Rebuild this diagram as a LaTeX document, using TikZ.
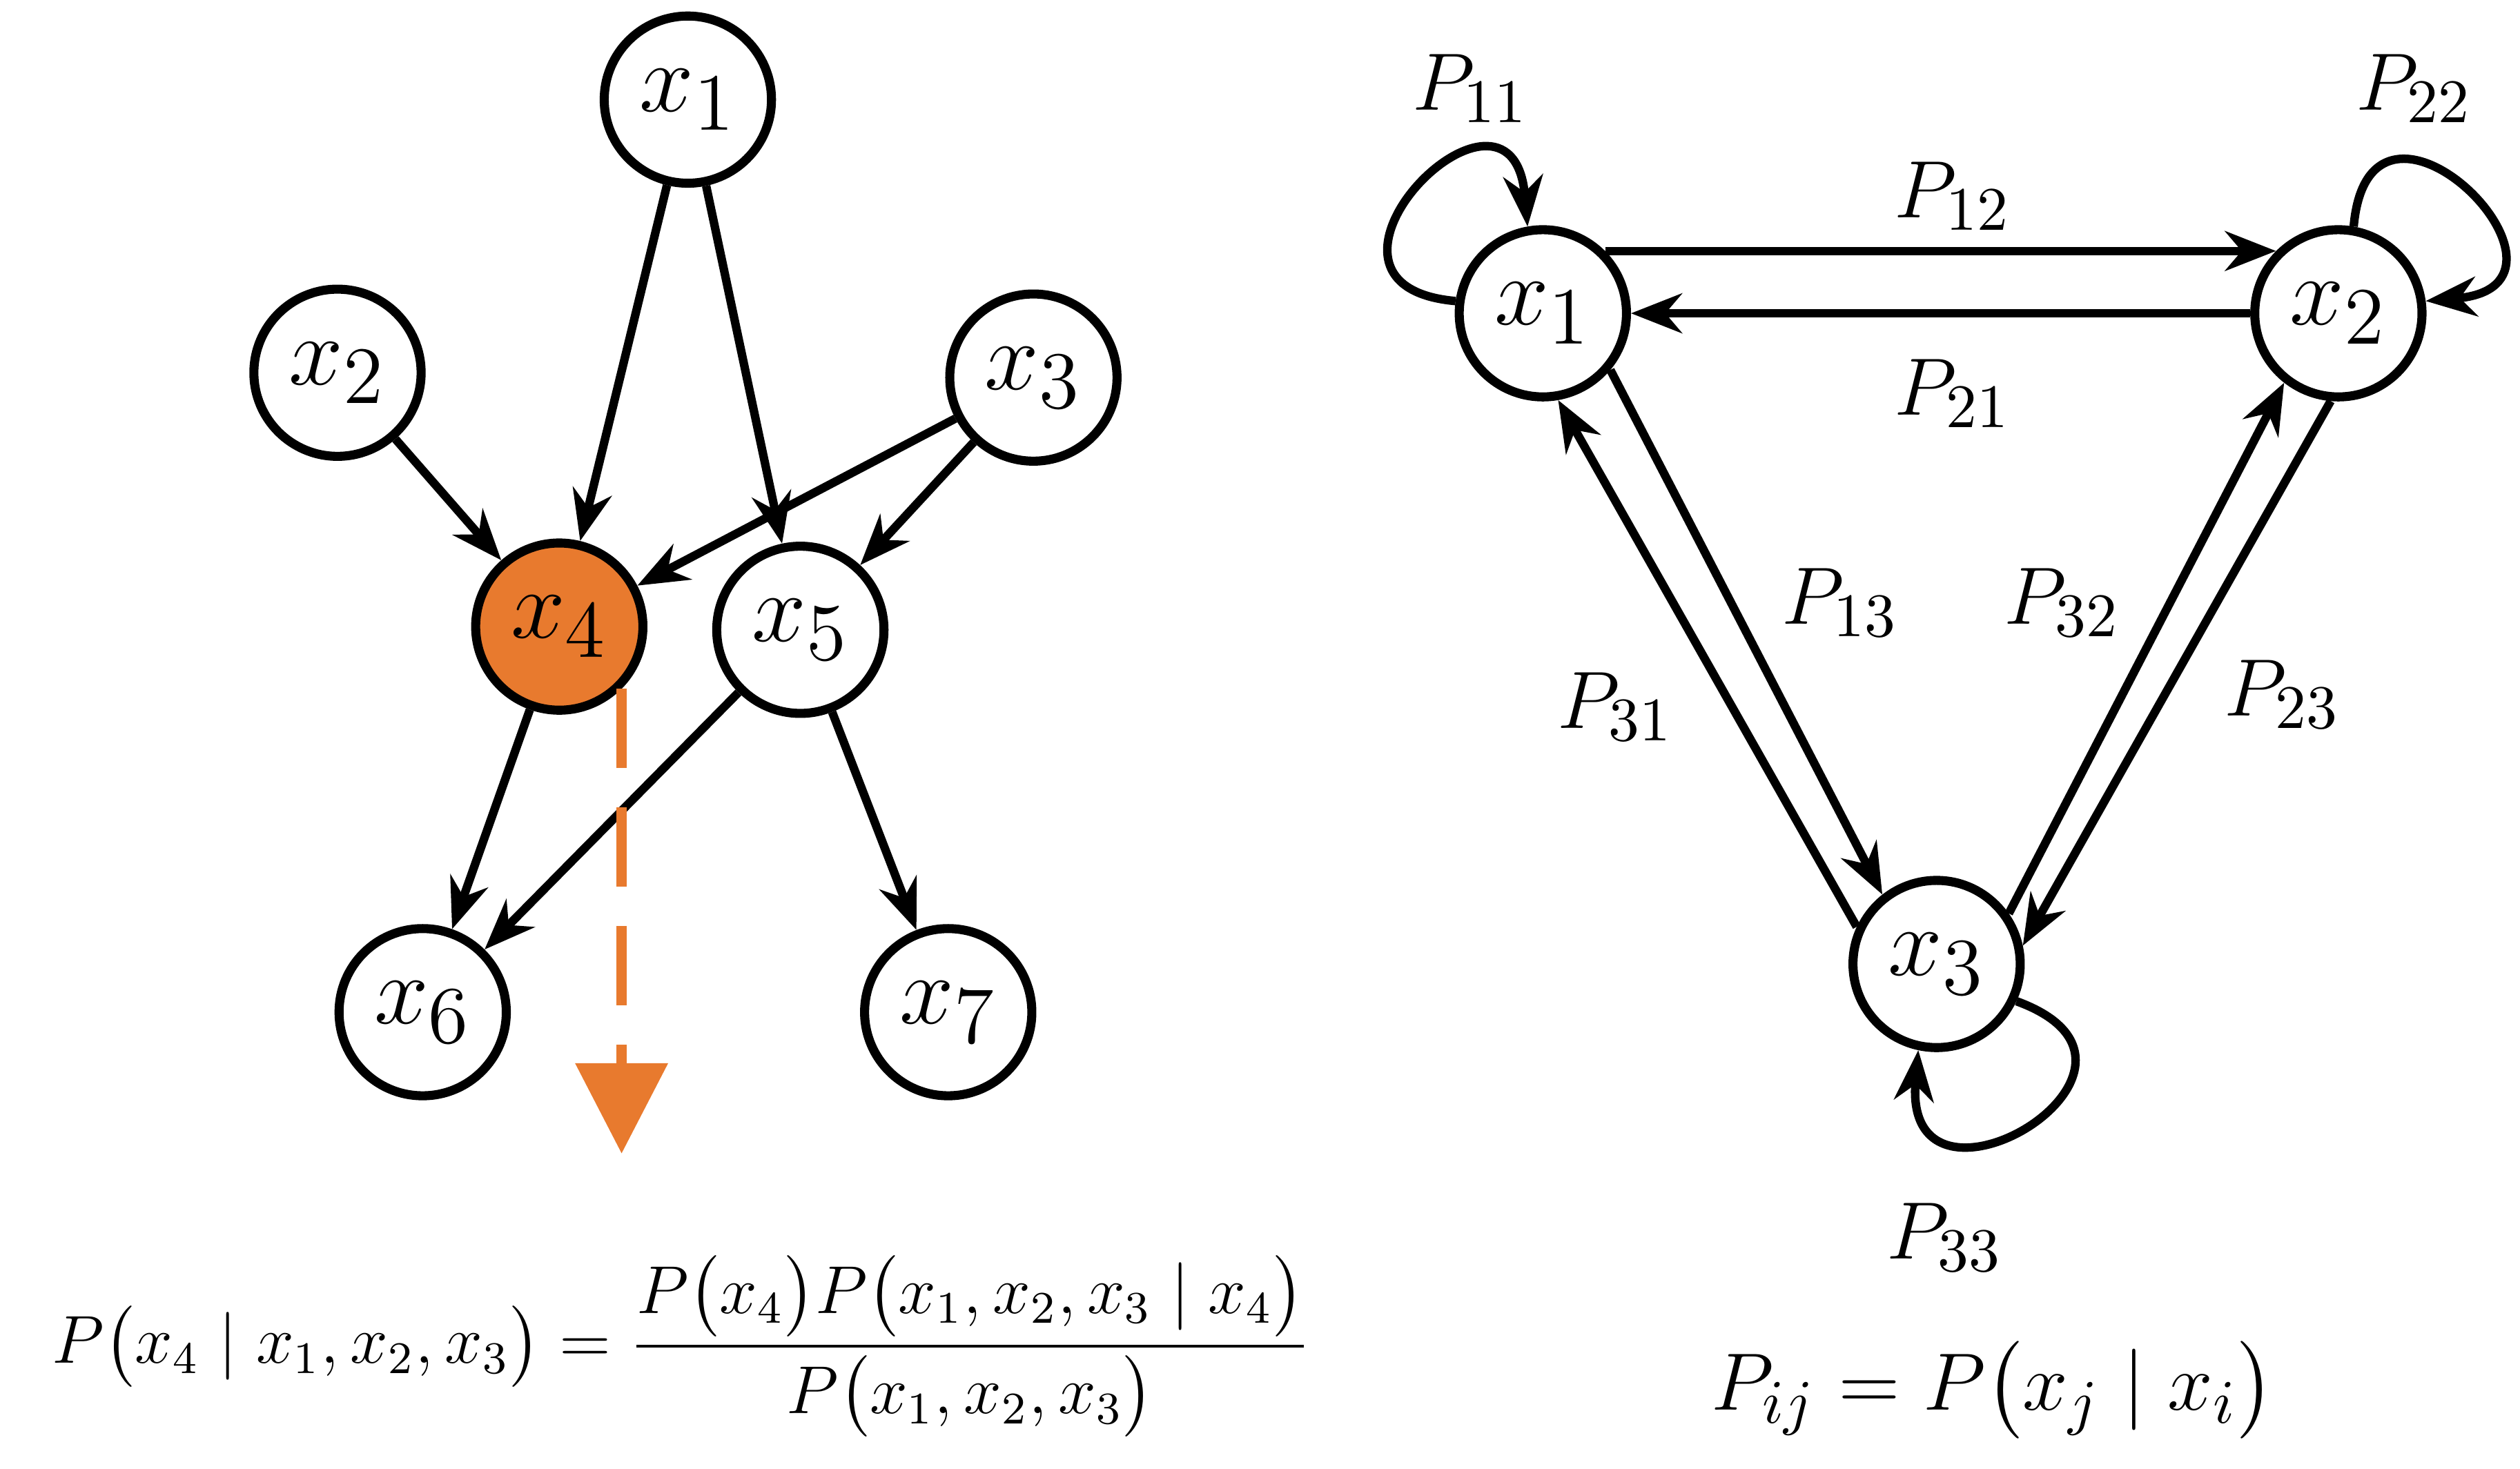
\documentclass[tikz,border=0pt]{standalone}
\usepackage{amsmath}
\usetikzlibrary{arrows.meta,positioning}
\definecolor{bnorange}{RGB}{232,122,46}
\begin{document}
\begin{tikzpicture}[x=0.01cm,y=-0.01cm,
    var/.style={circle,draw,line width=1.6pt,minimum size=1.04cm,inner sep=0pt,font=\fontsize{19}{22}\selectfont},
    arc/.style={-{Stealth[length=9pt,width=7pt]},line width=1.5pt},
    lab/.style={font=\fontsize{15}{18}\selectfont},
    loopy/.style={arc,looseness=4.5}]
  \useasboundingbox (0,0) rectangle (1568,914);
  % Bayesian network
  \node[var] (l1) at (428,62) {$x_1$};
  \node[var] (l2) at (210,232) {$x_2$};
  \node[var] (l3) at (643,235) {$x_3$};
  \node[var,fill=bnorange] (l4) at (348,390) {$x_4$};
  \node[var] (l5) at (498,392) {$x_5$};
  \node[var] (l6) at (263,630) {$x_6$};
  \node[var] (l7) at (590,630) {$x_7$};
  \draw[arc] (l1) -- (l4);
  \draw[arc] (l1) -- (l5);
  \draw[arc] (l2) -- (l4);
  \draw[arc] (l3) -- (l4);
  \draw[arc] (l3) -- (l5);
  \draw[arc] (l4) -- (l6);
  \draw[arc] (l5) -- (l6);
  \draw[arc] (l5) -- (l7);
  \coordinate (q) at (383,718);
  \draw[bnorange,line width=1.8pt,dash pattern=on 14pt off 7pt,-{Triangle[length=16pt,width=16pt]}] (l4.-45) -- (l4.-45 |- q);
  \node[font=\fontsize{12}{14}\selectfont] (bayes) at (424,838) {$P\big(x_4\mid x_1,x_2,x_3\big)=\dfrac{P\big(x_4\big)P\big(x_1,x_2,x_3\mid x_4\big)}{P\big(x_1,x_2,x_3\big)}$};
  % Markov chain
  \node[var] (m1) at (960,195) {$x_1$};
  \node[var] (m2) at (1455,195) {$x_2$};
  \node[var] (m3) at (1205,600) {$x_3$};
  \draw[arc] (m1.45) -- (m2.135);
  \draw[arc] (m2.180) -- (m1.0);
  \draw[arc] (m1.-40) -- (m3.128);
  \draw[arc] (m3.155) -- (m1.-80);
  \draw[arc] (m3.35) -- (m2.-128);
  \draw[arc] (m2.-95) -- (m3.12);
  \draw[loopy] (m1.172) to[out=175,in=95] (m1.100);
  \draw[loopy] (m2.80) to[out=85,in=5] (m2.8);
  \draw[loopy] (m3.-25) to[out=-20,in=-95] (m3.-102);
  \node[lab] (p11) at (915,55) {$P_{11}$};
  \node[lab] (p22) at (1502,55) {$P_{22}$};
  \node[lab] (p12) at (1215,122) {$P_{12}$};
  \node[lab] (p21) at (1215,245) {$P_{21}$};
  \node[lab] (p13) at (1145,375) {$P_{13}$};
  \node[lab] (p32) at (1283,375) {$P_{32}$};
  \node[lab] (p31) at (1005,440) {$P_{31}$};
  \node[lab] (p23) at (1420,432) {$P_{23}$};
  \node[lab] (p33) at (1210,770) {$P_{33}$};
  \node[lab] (pij) at (1240,865) {$P_{ij}=P\big(x_j\mid x_i\big)$};
\end{tikzpicture}
\end{document}
